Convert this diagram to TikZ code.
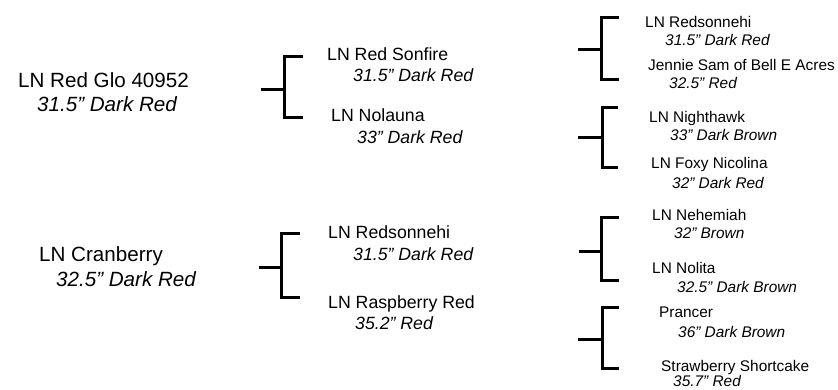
\documentclass[tikz,border=0pt]{standalone}
\usepackage{fontspec}
\setmainfont{Liberation Sans}

\begin{document}
\begin{tikzpicture}[x=1pt,y=-1pt,
          lg/.style={anchor=base west,inner sep=0pt,font=\fontsize{20.6}{24}\selectfont},
          lgi/.style={lg,font=\fontsize{20.6}{24}\selectfont\itshape},
          md/.style={anchor=base west,inner sep=0pt,font=\fontsize{17.7}{21}\selectfont},
          mdi/.style={md,font=\fontsize{17.7}{21}\selectfont\itshape},
          sm/.style={anchor=base west,inner sep=0pt,font=\fontsize{15.4}{18}\selectfont},
          smi/.style={sm,font=\fontsize{15.4}{18}\selectfont\itshape},
          brk/.style={line width=3pt,line join=miter}]
        \useasboundingbox (0,0) rectangle (838,389);
        % dogs
        \node[lg]  (rg)  at (18,87)   {LN Red Glo 40952};
        \node[lgi] (rgc) at (37,111)  {31.5" Dark Red};
        \node[lg]  (cb)  at (39,261)  {LN Cranberry};
        \node[lgi] (cbc) at (56,286)  {32.5" Dark Red};
        % parents
        \node[md]  (rs)  at (327,60)  {LN Red Sonfire};
        \node[mdi] (rsc) at (353,81)  {31.5" Dark Red};
        \node[md]  (nl)  at (331,121) {LN Nolauna};
        \node[mdi] (nlc) at (357,143) {33" Dark Red};
        \node[md]  (rn)  at (328,238) {LN Redsonnehi};
        \node[mdi] (rnc) at (353,260) {31.5" Dark Red};
        \node[md]  (rr)  at (328,308) {LN Raspberry Red};
        \node[mdi] (rrc) at (355,329) {35.2" Red};
        % grandparents
        \node[sm]  (rh)  at (645,27)  {LN Redsonnehi};
        \node[smi] (rhc) at (665,45)  {31.5" Dark Red};
        \node[sm]  (js)  at (648,70)  {Jennie Sam of Bell E Acres};
        \node[smi] (jsc) at (669,88)  {32.5" Red};
        \node[sm]  (nh)  at (649,122) {LN Nighthawk};
        \node[smi] (nhc) at (670,140) {33" Dark Brown};
        \node[sm]  (fn)  at (651,168) {LN Foxy Nicolina};
        \node[smi] (fnc) at (672,188) {32" Dark Red};
        \node[sm]  (ne)  at (652,220) {LN Nehemiah};
        \node[smi] (nec) at (674,238) {32" Brown};
        \node[sm]  (ni)  at (652,273) {LN Nolita};
        \node[smi] (nic) at (677,292) {32.5" Dark Brown};
        \node[sm]  (pr)  at (659,317) {Prancer};
        \node[smi] (prc) at (678,337) {36" Dark Brown};
        \node[sm]  (ss)  at (661,371) {Strawberry Shortcake};
        \node[smi] (ssc) at (673,386) {35.7" Red};
        % brackets
        \coordinate (k1s) at (261,89);  \coordinate (k1m) at (284,89);  \coordinate (k1t) at (303,56);  \coordinate (k1b) at (303,117);
        \coordinate (k2s) at (259,267); \coordinate (k2m) at (281,267); \coordinate (k2t) at (300,233); \coordinate (k2b) at (300,297);
        \coordinate (k3s) at (578,49);  \coordinate (k3m) at (601,49);  \coordinate (k3t) at (619,17);  \coordinate (k3b) at (619,79);
        \coordinate (k4s) at (578,137); \coordinate (k4m) at (602,137); \coordinate (k4t) at (618,107); \coordinate (k4b) at (618,167);
        \coordinate (k5s) at (579,251); \coordinate (k5m) at (601,251); \coordinate (k5t) at (619,217); \coordinate (k5b) at (619,280);
        \coordinate (k6s) at (578,339); \coordinate (k6m) at (602,339); \coordinate (k6t) at (619,307); \coordinate (k6b) at (619,368);
        \draw[brk] (k1s)--(k1m); \draw[brk] (k1t) -| (k1m) |- (k1b);
        \draw[brk] (k2s)--(k2m); \draw[brk] (k2t) -| (k2m) |- (k2b);
        \draw[brk] (k3s)--(k3m); \draw[brk] (k3t) -| (k3m) |- (k3b);
        \draw[brk] (k4s)--(k4m); \draw[brk] (k4t) -| (k4m) |- (k4b);
        \draw[brk] (k5s)--(k5m); \draw[brk] (k5t) -| (k5m) |- (k5b);
        \draw[brk] (k6s)--(k6m); \draw[brk] (k6t) -| (k6m) |- (k6b);
      \end{tikzpicture}
\end{document}
